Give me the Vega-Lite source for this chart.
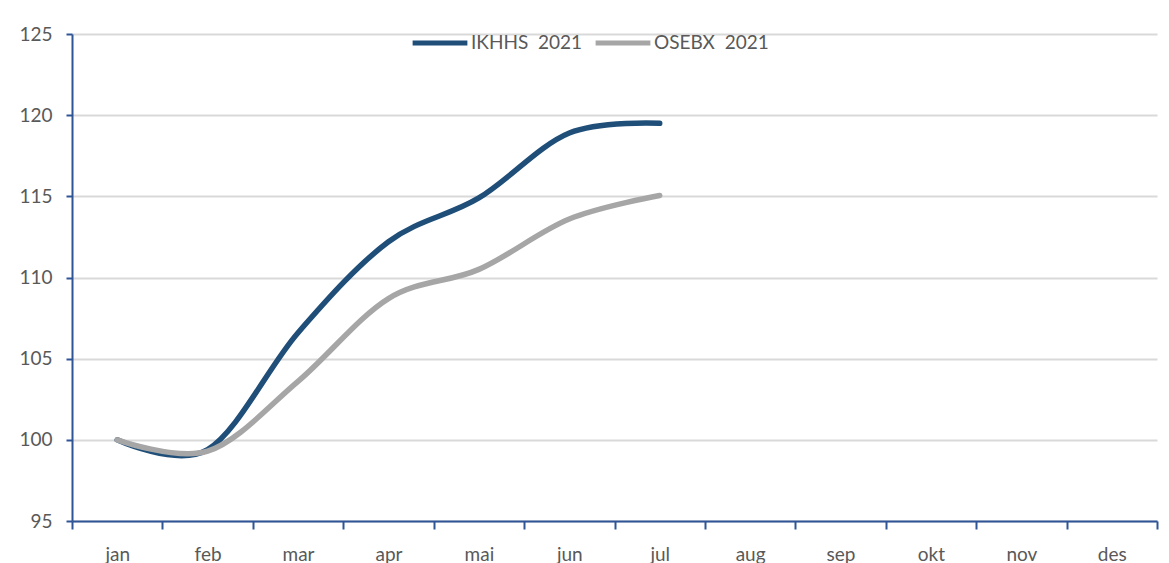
{
  "$schema": "https://vega.github.io/schema/vega-lite/v6.json",
  "width": 1085,
  "height": 487,
  "autosize": {"type": "none"},
  "padding": {"left": 72, "top": 34, "right": 12, "bottom": 42},
  "background": "white",
  "config": {
    "view": {"stroke": null},
    "font": "Lato"
  },
  "data": {
    "values": [
      {"month": "jan", "series": "IKHHS\u00a0 2021", "value": 100},
      {"month": "feb", "series": "IKHHS\u00a0 2021", "value": 99.4},
      {"month": "mar", "series": "IKHHS\u00a0 2021", "value": 106.6},
      {"month": "apr", "series": "IKHHS\u00a0 2021", "value": 112.2},
      {"month": "mai", "series": "IKHHS\u00a0 2021", "value": 114.9},
      {"month": "jun", "series": "IKHHS\u00a0 2021", "value": 118.9},
      {"month": "jul", "series": "IKHHS\u00a0 2021", "value": 119.5},
      {"month": "jan", "series": "OSEBX\u00a0 2021", "value": 100},
      {"month": "feb", "series": "OSEBX\u00a0 2021", "value": 99.3},
      {"month": "mar", "series": "OSEBX\u00a0 2021", "value": 103.6},
      {"month": "apr", "series": "OSEBX\u00a0 2021", "value": 108.7},
      {"month": "mai", "series": "OSEBX\u00a0 2021", "value": 110.5},
      {"month": "jun", "series": "OSEBX\u00a0 2021", "value": 113.6},
      {"month": "jul", "series": "OSEBX\u00a0 2021", "value": 115.05}
    ]
  },
  "mark": {"type": "line", "interpolate": "cardinal", "tension": 0, "strokeWidth": 5.5, "strokeCap": "round", "strokeJoin": "round"},
  "encoding": {
    "x": {
      "field": "month",
      "type": "nominal",
      "sort": null,
      "scale": {"domain": ["jan","feb","mar","apr","mai","jun","jul","aug","sep","okt","nov","des"], "paddingInner": 0, "paddingOuter": 0},
      "axis": {
        "title": null,
        "tickBand": "extent",
        "labelAngle": 0,
        "labelFontSize": 19,
        "labelColor": "#595959",
        "labelPadding": 16,
        "domainColor": "#2F5597",
        "domainWidth": 2,
        "tickColor": "#2F5597",
        "tickWidth": 2,
        "tickSize": 8,
        "grid": false
      }
    },
    "y": {
      "field": "value",
      "type": "quantitative",
      "scale": {"domain": [95, 125], "nice": false, "zero": false},
      "axis": {
        "title": null,
        "values": [95, 100, 105, 110, 115, 120, 125],
        "labelFontSize": 19,
        "labelColor": "#595959",
        "labelPadding": 14,
        "domainColor": "#2F5597",
        "domainWidth": 2,
        "tickColor": "#2F5597",
        "tickWidth": 2,
        "tickSize": 6,
        "grid": true,
        "gridColor": "#D9D9D9",
        "gridWidth": 2
      }
    },
    "color": {
      "field": "series",
      "type": "nominal",
      "scale": {"domain": ["IKHHS\u00a0 2021", "OSEBX\u00a0 2021"], "range": ["#1F4E79", "#A6A6A6"]},
      "legend": {
        "title": null,
        "orient": "none",
        "legendX": 338,
        "legendY": -21,
        "direction": "horizontal",
        "symbolType": "stroke",
        "symbolSize": 3000,
        "symbolStrokeWidth": 5,
        "labelFontSize": 19,
        "labelColor": "#595959",
        "labelOffset": 1,
        "columnPadding": 2
      }
    }
  }
}
